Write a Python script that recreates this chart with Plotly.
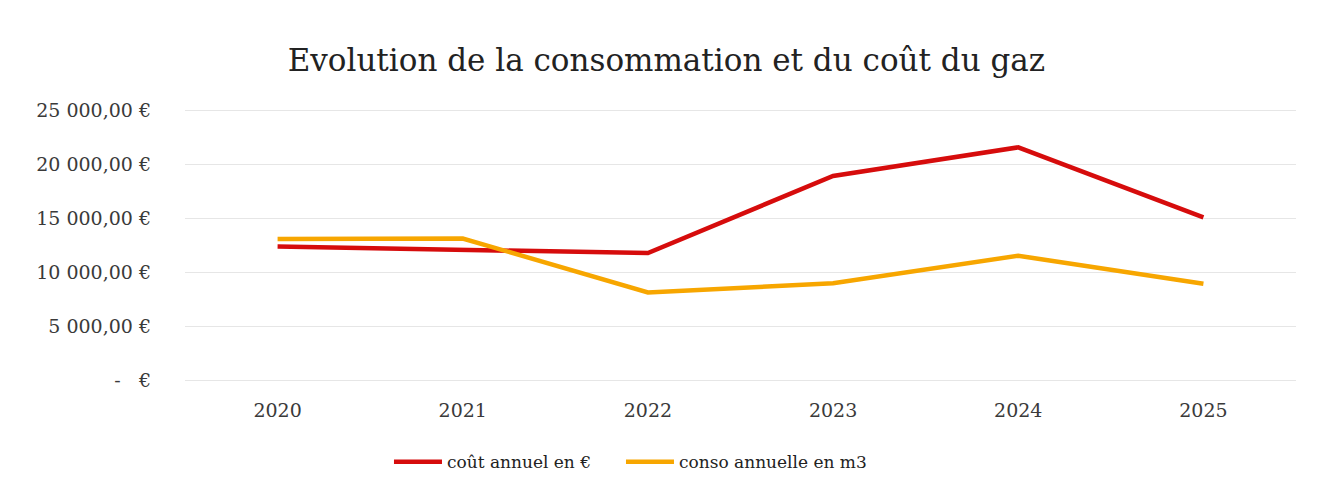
import plotly.graph_objects as go

years = ["2020", "2021", "2022", "2023", "2024", "2025"]
cout_annuel = [12400, 12050, 11800, 18950, 21600, 15100]
conso_annuelle = [13100, 13150, 8150, 9000, 11550, 8950]

tick_vals = [0, 5000, 10000, 15000, 20000, 25000]
tick_text = ["-\u00a0\u00a0\u00a0€", "5\u00a0000,00\u00a0€", "10\u00a0000,00\u00a0€",
             "15\u00a0000,00\u00a0€", "20\u00a0000,00\u00a0€", "25\u00a0000,00\u00a0€"]

FONT = "DejaVu Serif"
TXT = "#3a3a3a"

fig = go.Figure()
fig.add_trace(go.Scatter(x=years, y=cout_annuel, mode="lines", name="coût annuel en €",
                         line=dict(color="#d60c0c", width=4.5), legendwidth=169))
fig.add_trace(go.Scatter(x=years, y=conso_annuelle, mode="lines", name="conso annuelle en m3",
                         line=dict(color="#f7a600", width=4.5), legendwidth=230))

fig.update_layout(
    width=1309, height=486,
    paper_bgcolor="white", plot_bgcolor="white",
    margin=dict(l=177, r=21, t=100, b=111),
    font=dict(family=FONT, color=TXT, size=18),
    title=dict(text="Evolution de la consommation et du coût du gaz",
               x=0.503, xanchor="center", y=0.893, yanchor="middle",
               font=dict(family=FONT, size=31, color="#222222")),
    showlegend=True,
    legend=dict(orientation="h", x=0.1836, xanchor="left", y=-0.288, yanchor="middle",
                font=dict(family=FONT, size=17, color="#222222"),
                itemwidth=48, tracegroupgap=0),
)
fig.update_xaxes(type="category", range=[-0.5, 5.5], showgrid=False, showline=False,
                 zeroline=False, ticks="", ticklabelstandoff=14,
                 tickfont=dict(family=FONT, size=19, color=TXT))
fig.update_yaxes(range=[-250, 25250], tickvals=tick_vals, ticktext=tick_text,
                 showgrid=True, gridcolor="#e6e6e6", gridwidth=1, zeroline=False,
                 showline=False, ticks="", ticklabelstandoff=33,
                 tickfont=dict(family=FONT, size=19, color=TXT))

fig.write_html("out.html")
